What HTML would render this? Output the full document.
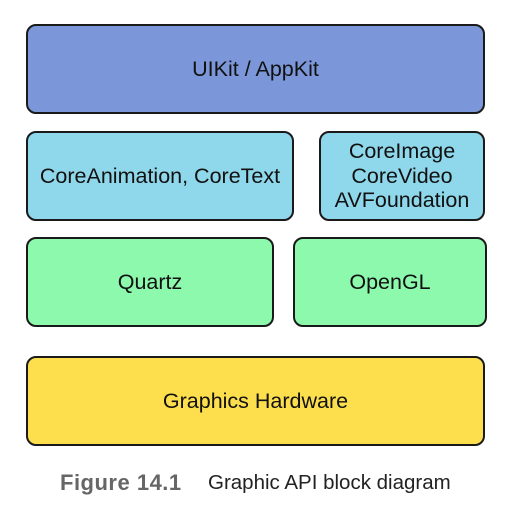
<!DOCTYPE html>
<html><head><style>
body{margin:0;width:510px;height:517px;background:#fff;position:relative;font-family:"Liberation Sans",sans-serif;overflow:hidden}
.b{position:absolute;box-sizing:border-box;border:2px solid #1a1a1a;border-radius:10px;display:flex;align-items:center;justify-content:center;text-align:center;font-size:21.5px;color:#111;line-height:24.5px;white-space:nowrap}
</style></head><body>
<div class="b" style="left:26px;top:24px;width:459px;height:90px;background:#7c97d9">UIKit / AppKit</div>
<div class="b" style="left:26px;top:131px;width:268px;height:90px;background:#8fd7ea">CoreAnimation, CoreText</div>
<div class="b" style="left:319px;top:131px;width:166px;height:90px;background:#8fd7ea">CoreImage<br>CoreVideo<br>AVFoundation</div>
<div class="b" style="left:26px;top:237px;width:248px;height:90px;background:#8cf9ac">Quartz</div>
<div class="b" style="left:293px;top:237px;width:194px;height:90px;background:#8cf9ac">OpenGL</div>
<div class="b" style="left:26px;top:356px;width:459px;height:90px;background:#fddf4e">Graphics Hardware</div>
<div style="position:absolute;left:60px;top:470px;font-size:22px;font-weight:bold;color:#666;letter-spacing:0.5px">Figure 14.1</div>
<div style="position:absolute;left:208px;top:471px;font-size:20.5px;color:#222;letter-spacing:0px">Graphic API block diagram</div>
</body></html>
